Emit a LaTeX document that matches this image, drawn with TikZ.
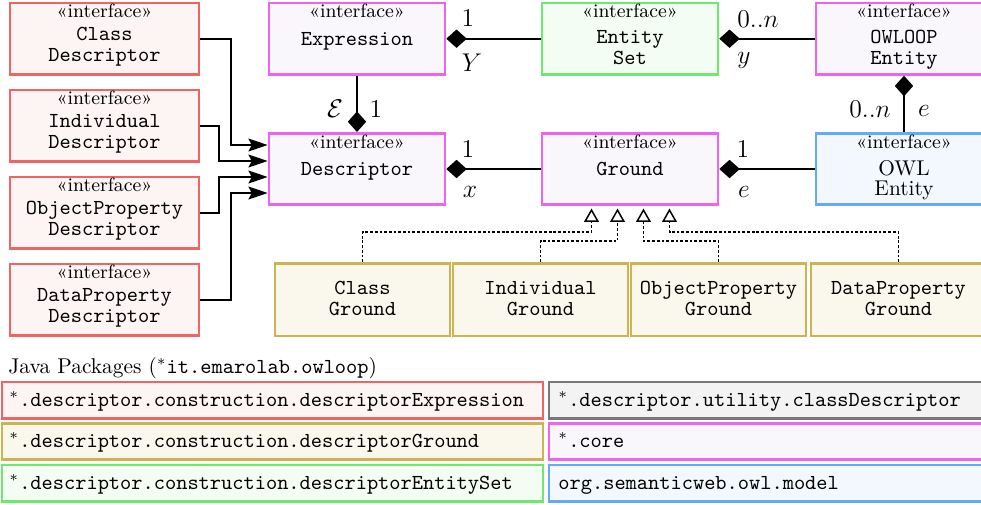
\documentclass[tikz,border=0pt]{standalone}
\usetikzlibrary{arrows.meta,calc}
\newlength\px
\setlength\px{0.468pt}
\definecolor{redB}{RGB}{240,100,100}\definecolor{redF}{RGB}{253,244,244}
\definecolor{magB}{RGB}{238,100,238}\definecolor{magF}{RGB}{250,247,252}
\definecolor{grnB}{RGB}{110,232,110}\definecolor{grnF}{RGB}{244,253,244}
\definecolor{bluB}{RGB}{100,170,250}\definecolor{bluF}{RGB}{243,248,254}
\definecolor{olvB}{RGB}{205,180,80}\definecolor{olvF}{RGB}{250,247,236}
\definecolor{gryB}{RGB}{120,120,120}\definecolor{gryF}{RGB}{243,243,243}
\tikzset{
  box/.style={draw, line width=1.2pt, inner sep=0pt, minimum width=176\px, minimum height=71.5\px},
  rbox/.style={draw=redB, fill=redF},
  mbox/.style={draw=magB, fill=magF},
  gbox/.style={draw=grnB, fill=grnF},
  bbox/.style={draw=bluB, fill=bluF},
  obox/.style={draw=olvB, fill=olvF},
  ybox/.style={draw=gryB, fill=gryF},
  stereo/.style={anchor=base, inner sep=0pt, font=\small},
  nm/.style={anchor=base, inner sep=0pt, font=\ttfamily},
  rm/.style={anchor=base, inner sep=0pt},
  lab/.style={anchor=base, inner sep=0pt, font=\large},
  ltext/.style={anchor=base west, inner sep=0pt, font=\ttfamily},
  conn/.style={line width=0.8pt, draw=black},
  arr/.style={conn, -{Stealth[length=9pt,width=6pt,inset=1.5pt]}},
  comp/.style={conn, {Diamond[length=9.6pt,width=8.6pt]}-},
  real/.style={line width=0.6pt, dash pattern=on 1.3pt off 0.9pt, -{Triangle[open,length=6.2pt,width=6.8pt,line width=0.7pt]}},
}
\begin{document}
\begin{tikzpicture}[x=0.468pt,y=-0.468pt]
\useasboundingbox (0,0) rectangle (981,505);

% left descriptors
\node[box,rbox,minimum width=189\px] (cd) at (104.5,38.7) {};
\node[stereo] (cds) at (104.5,17.5) {«interface»};
\node[nm] (cd1) at (104.5,40.7) {Class};
\node[nm] (cd2) at (104.5,61.7) {Descriptor};

\node[box,rbox,minimum width=189\px] (id) at (104.5,125.7) {};
\node[stereo] (ids) at (104.5,104.5) {«interface»};
\node[nm] (id1) at (104.5,127.5) {Individual};
\node[nm] (id2) at (104.5,148.5) {Descriptor};

\node[box,rbox,minimum width=189\px] (opd) at (104.5,212.7) {};
\node[stereo] (opds) at (104.5,191.5) {«interface»};
\node[nm] (opd1) at (104.5,214.5) {ObjectProperty};
\node[nm] (opd2) at (104.5,235.5) {Descriptor};

\node[box,rbox,minimum width=189\px] (dpd) at (104.5,299.7) {};
\node[stereo] (dpds) at (104.5,278.5) {«interface»};
\node[nm] (dpd1) at (104.5,301.5) {DataProperty};
\node[nm] (dpd2) at (104.5,322.5) {Descriptor};

% core boxes
\node[box,mbox] (expr) at (357,38.7) {};
\node[stereo] (exprs) at (357,17.5) {«interface»};
\node[nm] (expr1) at (357,45.2) {Expression};

\node[box,mbox] (desc) at (357,169) {};
\node[stereo] (descs) at (357,148) {«interface»};
\node[nm] (desc1) at (357,175.7) {Descriptor};

\node[box,gbox] (es) at (630,38.7) {};
\node[stereo] (ess) at (630,17.5) {«interface»};
\node[nm] (es1) at (630,43) {Entity};
\node[nm] (es2) at (630,64) {Set};

\node[box,mbox] (gr) at (630,169) {};
\node[stereo] (grs) at (630,148) {«interface»};
\node[nm] (gr1) at (630,175.7) {Ground};

\node[box,mbox] (ooe) at (904,38.7) {};
\node[stereo] (ooes) at (904,17.5) {«interface»};
\node[nm] (ooe1) at (904,43) {OWLOOP};
\node[nm] (ooe2) at (904,64) {Entity};

\node[box,bbox] (owe) at (904,169) {};
\node[stereo] (owes) at (904,148) {«interface»};
\node[rm] (owe1) at (904,175.5) {OWL};
\node[rm] (owe2) at (904,195.5) {Entity};

% ground boxes
\node[box,obox,minimum width=175\px,minimum height=72.7\px] (cg) at (362.5,299.7) {};
\node[nm] (cg1) at (362.5,294) {Class};
\node[nm] (cg2) at (362.5,315) {Ground};
\node[box,obox,minimum width=175\px,minimum height=72.7\px] (ig) at (540.5,299.7) {};
\node[nm] (ig1) at (540.5,294) {Individual};
\node[nm] (ig2) at (540.5,315) {Ground};
\node[box,obox,minimum width=175\px,minimum height=72.7\px] (opg) at (718.5,299.7) {};
\node[nm] (opg1) at (718.5,294) {ObjectProperty};
\node[nm] (opg2) at (718.5,315) {Ground};
\node[box,obox,minimum width=175\px,minimum height=72.7\px] (dpg) at (898.5,299.7) {};
\node[nm] (dpg1) at (898.5,294) {DataProperty};
\node[nm] (dpg2) at (898.5,315) {Ground};

% generalisation arrows to Descriptor
\draw[arr] (cd.east) -- ++(31,0) |- ([yshift=24\px]desc.west);
\draw[arr] (id.east) -- ++(19,0) |- ([yshift=8\px]desc.west);
\draw[arr] (opd.east) -- ++(19,0) |- ([yshift=-8\px]desc.west);
\draw[arr] (dpd.east) -- ++(31,0) |- ([yshift=-24\px]desc.west);

% compositions
\draw[comp] (expr.east) -- (es.west);
\draw[comp] (es.east) -- (ooe.west);
\draw[comp] (desc.north) -- (expr.south);
\draw[comp] (desc.east) -- (gr.west);
\draw[comp] (gr.east) -- (owe.west);
\draw[comp] (ooe.south) -- (owe.north);

% multiplicity labels
\node[lab] (m1) at (468,26) {$1$};
\node[lab] (m2) at (472,71) {$Y$};
\node[lab] (m3) at (758,27) {$0..n$};
\node[lab] (m4) at (744,63.5) {$y$};
\node[lab] (m5) at (335,117) {$\mathcal{E}$};
\node[lab] (m6) at (376,117) {$1$};
\node[lab] (m7) at (468,157) {$1$};
\node[lab] (m8) at (470,197) {$x$};
\node[lab] (m9) at (743,157) {$1$};
\node[lab] (m10) at (744,197) {$e$};
\node[lab] (m11) at (870,117) {$0..n$};
\node[lab] (m12) at (924,116) {$e$};

% realisations
\coordinate (r1) at (591.5,208.5);
\coordinate (r2) at (617.5,208.5);
\coordinate (r3) at (643.5,208.5);
\coordinate (r4) at (669.5,208.5);
\draw[real] (cg.north) -- ++(0,-30) -| (r1);
\draw[real] (ig.north) -- ++(0,-21) -| (r2);
\draw[real] (opg.north) -- ++(0,-21) -| (r3);
\draw[real] (dpg.north) -- ++(0,-30) -| (r4);

% legend
\node[anchor=base west, inner sep=0pt] (jp) at (8,373) {Java Packages ($^*$\texttt{it.emarolab.owloop})};
\node[box,rbox,minimum width=541\px,minimum height=36.5\px] (l1) at (272.5,400.2) {};
\node[box,obox,minimum width=541\px,minimum height=36.5\px] (l2) at (272.5,441.5) {};
\node[box,gbox,minimum width=541\px,minimum height=36.5\px] (l3) at (272.5,483.3) {};
\node[box,ybox,minimum width=443\px,minimum height=36.5\px] (l4) at (770.5,400.2) {};
\node[box,mbox,minimum width=443\px,minimum height=36.5\px] (l5) at (770.5,441.5) {};
\node[box,bbox,minimum width=443\px,minimum height=36.5\px] (l6) at (770.5,483.3) {};
\node[ltext] (lt1) at (9,406.5) {$^*$.descriptor.construction.descriptorExpression};
\node[ltext] (lt2) at (9,447.5) {$^*$.descriptor.construction.descriptorGround};
\node[ltext] (lt3) at (9,489) {$^*$.descriptor.construction.descriptorEntitySet};
\node[ltext] (lt4) at (558,406.5) {$^*$.descriptor.utility.classDescriptor};
\node[ltext] (lt5) at (558,447.5) {$^*$.core};
\node[ltext] (lt6) at (558,489) {org.semanticweb.owl.model};
\end{tikzpicture}
\end{document}
